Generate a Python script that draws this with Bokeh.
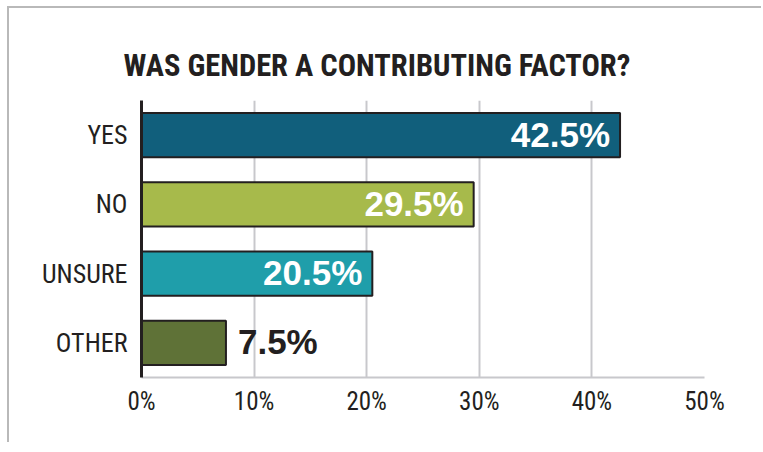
from bokeh.plotting import figure
from bokeh.models import ColumnDataSource, FactorRange, Range1d, Title, FixedTicker, LabelSet
from bokeh.core.properties import value
from bokeh.embed import file_html
from bokeh.resources import INLINE

categories = ["YES", "NO", "UNSURE", "OTHER"]
percentages = [42.5, 29.5, 20.5, 7.5]
bar_colors = ["#115f7c", "#a7ba4b", "#1f9eaa", "#5f7237"]
tick_values = [0, 10, 20, 30, 40, 50]
tick_labels = ["0%", "10%", "20%", "30%", "40%", "50%"]
title_text = "WAS GENDER A CONTRIBUTING FACTOR?"

inside = [v > 15 for v in percentages]
source = ColumnDataSource(dict(cat=categories, val=percentages, color=bar_colors))
src_in = ColumnDataSource(dict(
    cat=[c for c, i in zip(categories, inside) if i],
    val=[v for v, i in zip(percentages, inside) if i],
    label=[f"{v:.1f}%" for v, i in zip(percentages, inside) if i],
))
src_out = ColumnDataSource(dict(
    cat=[c for c, i in zip(categories, inside) if not i],
    val=[v for v, i in zip(percentages, inside) if not i],
    label=[f"{v:.1f}%" for v, i in zip(percentages, inside) if not i],
))

NARROW = "'Roboto Condensed', 'DejaVu Sans Condensed', Roboto"
DARK = "#231f20"
GRID = "#c8c8cc"

p = figure(
    width=754, height=436,
    y_range=FactorRange(*reversed(categories), range_padding=0),
    x_range=Range1d(0, 50),
    output_backend="svg", toolbar_location=None,
    min_border_left=132, min_border_right=59, min_border_top=92, min_border_bottom=67,
    background_fill_color="white", border_fill_color="white",
    outline_line_color=None,
    styles={"border-left": "2px solid #b9b9b9", "border-top": "2px solid #b9b9b9",
            "margin-left": "7px", "margin-top": "6px"},
)

t = Title(text=title_text, align="left", offset=-18,
          text_font=NARROW, text_font_size="30.5px", text_font_style="bold",
          text_color=DARK, standoff=36)
p.add_layout(t, "above")

p.hbar(y="cat", right="val", left=0, height=0.64, source=source,
       fill_color="color", line_color=DARK, line_width=2)

p.add_layout(LabelSet(x="val", y="cat", text="label", source=src_in,
                      x_offset=-10, text_align="right", text_baseline="middle",
                      text_color="white", text_font=value("Liberation Sans"),
                      text_font_style="bold", text_font_size="35px", y_offset=1))
p.add_layout(LabelSet(x="val", y="cat", text="label", source=src_out,
                      x_offset=12, text_align="left", text_baseline="middle",
                      text_color=DARK, text_font=value("Liberation Sans"),
                      text_font_style="bold", text_font_size="35px", y_offset=1))

p.xaxis.ticker = FixedTicker(ticks=tick_values)
p.xaxis.major_label_overrides = {v: l for v, l in zip(tick_values, tick_labels)}
p.xaxis.axis_line_color = GRID
p.xaxis.axis_line_width = 2
p.xaxis.major_tick_line_color = None
p.xaxis.minor_tick_line_color = None
p.xaxis.major_label_text_font = NARROW
p.xaxis.major_label_text_font_size = "25px"
p.xaxis.major_label_text_color = DARK
p.xaxis.major_label_standoff = 3

p.yaxis.axis_line_color = DARK
p.yaxis.axis_line_width = 3
p.yaxis.major_tick_line_color = None
p.yaxis.minor_tick_line_color = None
p.yaxis.major_label_text_font = NARROW
p.yaxis.major_label_text_font_size = "26px"
p.yaxis.major_label_text_color = DARK
p.yaxis.major_label_standoff = 8

p.xgrid.grid_line_color = GRID
p.xgrid.grid_line_width = 2
p.ygrid.grid_line_color = None

open("out.html", "w").write(file_html(p, INLINE))
